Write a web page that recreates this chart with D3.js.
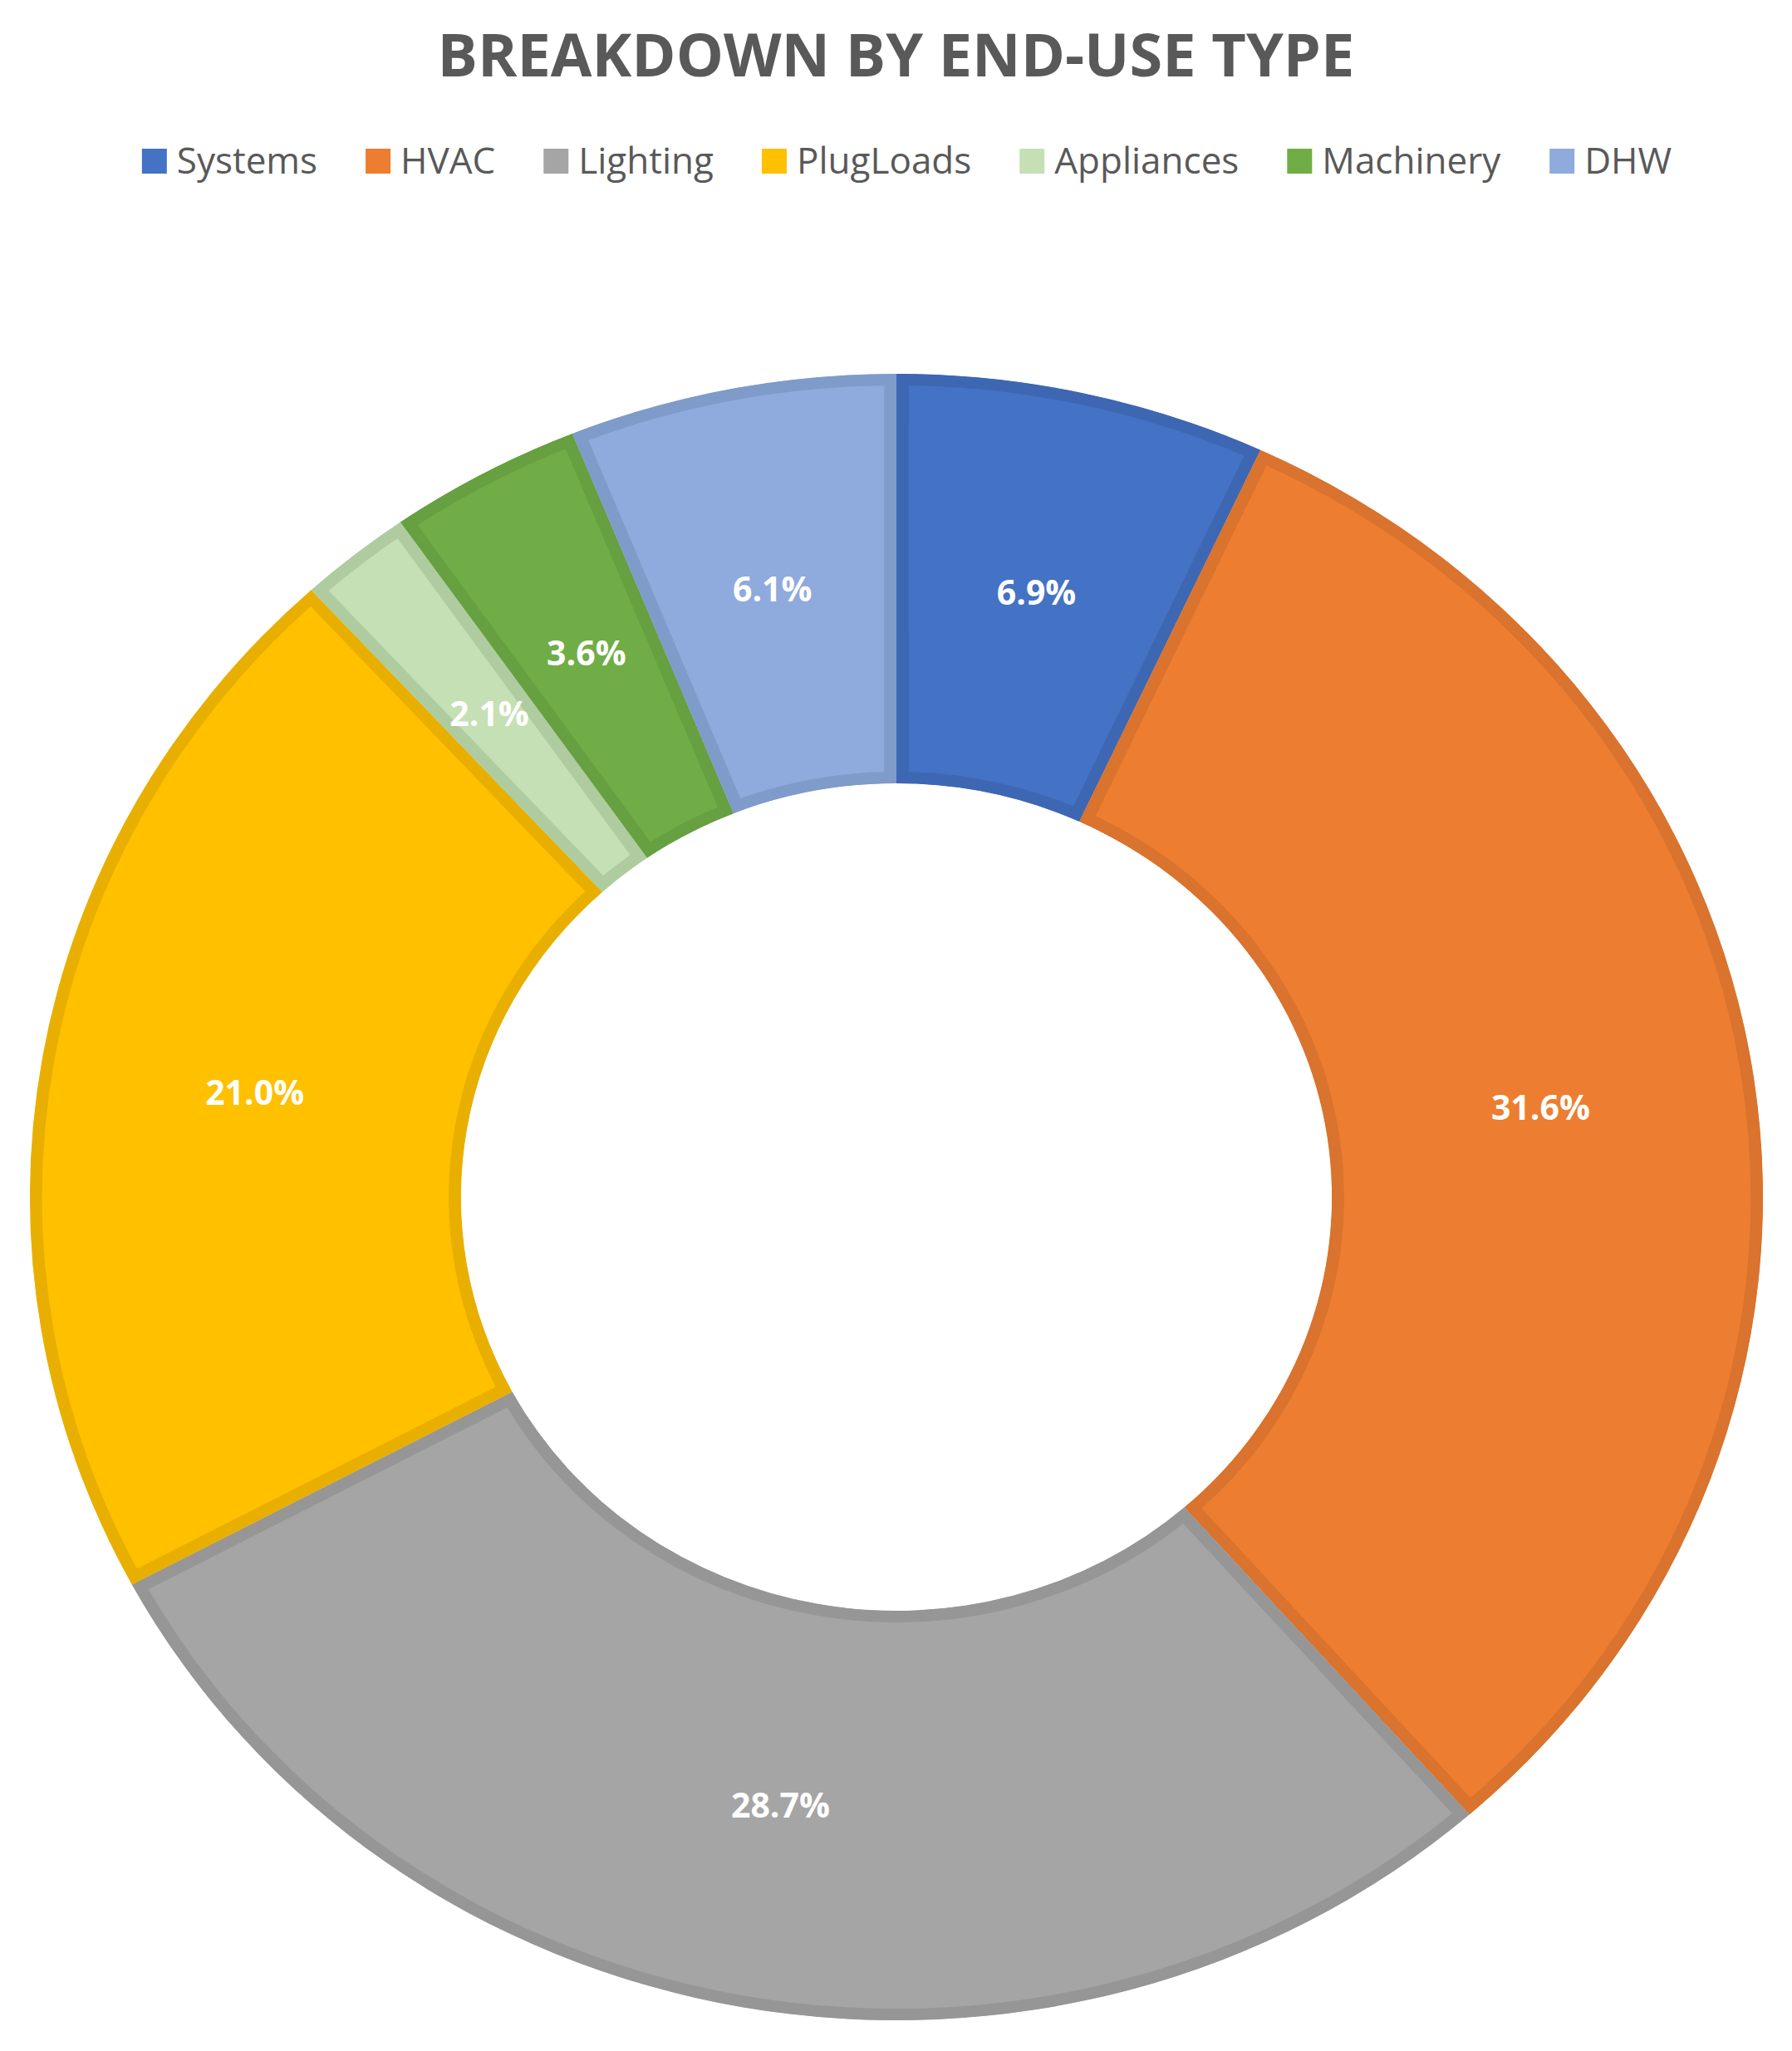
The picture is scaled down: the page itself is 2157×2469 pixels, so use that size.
<!DOCTYPE html>
<html>
<head>
<meta charset="utf-8">
<script src="https://cdn.jsdelivr.net/npm/d3@7"></script>
<style>
  body { margin: 0; background: #fff; }
  svg { display: block; }
</style>
</head>
<body>
<svg id="chart" width="2157" height="2469"></svg>
<script>
// data
const categories = ['Systems', 'HVAC', 'Lighting', 'PlugLoads', 'Appliances', 'Machinery', 'DHW'];
const shares = [6.9, 31.6, 28.7, 21.0, 2.1, 3.6, 6.1];
const fills = ['#4472C4', '#ED7D31', '#A5A5A5', '#FFC000', '#C5E0B4', '#70AD47', '#8FAADC'];
const borders = ['#3E67B3', '#D9732D', '#969696', '#E8AF00', '#AECCA0', '#66A040', '#7F9BC9'];

const svg = d3.select('#chart');
const width = +svg.attr('width');

// donut geometry (the picture is a bit wider than tall)
const cx = 1079, cy = 1441;
const outerR = 991, innerR = 498;
const sx = 1.0525;
const BORDER = 14;

const items = categories.map((c, i) => ({name: c, value: shares[i], fill: fills[i], border: borders[i]}));

const pie = d3.pie().value(d => d.value).sort(null);
const arc = d3.arc().innerRadius(innerR).outerRadius(outerR);
const arcs = pie(items);

// title
svg.append('text')
  .attr('x', width / 2)
  .attr('y', 92)
  .attr('text-anchor', 'middle')
  .attr('font-family', 'Open Sans, sans-serif')
  .attr('font-weight', 'bold')
  .attr('font-size', 72)
  .attr('fill', '#595959')
  .text('BREAKDOWN BY END-USE TYPE');

// legend
const legend = svg.append('g');
const legendItems = legend.selectAll('g')
  .data(items)
  .enter()
  .append('g');

legendItems.append('rect')
  .attr('width', 30)
  .attr('height', 30)
  .attr('y', -15)
  .attr('fill', d => d.fill);

legendItems.append('text')
  .attr('x', 42)
  .attr('dy', '0.35em')
  .attr('font-family', 'Open Sans, sans-serif')
  .attr('font-size', 44)
  .attr('fill', '#595959')
  .text(d => d.name);

let pos = 0;
const gap = 58;
legendItems.each(function() {
  const w = this.getBBox().width;
  d3.select(this).attr('transform', `translate(${pos},0)`);
  pos += w + gap;
});
const total = pos - gap;
legend.attr('transform', `translate(${(width - total) / 2 + 13},194)`);

// slices
const ring = svg.append('g')
  .attr('transform', `translate(${cx},${cy}) scale(${sx},1)`);

const defs = svg.append('defs');
arcs.forEach((a, i) => {
  defs.append('clipPath')
    .attr('id', 'clip' + i)
    .append('path')
    .attr('d', arc(a));
});

ring.selectAll('path')
  .data(arcs)
  .enter()
  .append('path')
  .attr('d', arc)
  .attr('fill', d => d.data.fill)
  .attr('stroke', d => d.data.border)
  .attr('stroke-width', BORDER * 2)
  .attr('clip-path', (d, i) => `url(#clip${i})`);

// value labels
svg.append('g')
  .selectAll('text')
  .data(arcs)
  .enter()
  .append('text')
  .attr('x', d => cx + sx * arc.centroid(d)[0])
  .attr('y', d => cy + arc.centroid(d)[1])
  .attr('text-anchor', 'middle')
  .attr('dy', '0.35em')
  .attr('font-family', 'Open Sans, sans-serif')
  .attr('font-weight', 'bold')
  .attr('font-size', 41)
  .attr('fill', '#fff')
  .text(d => d.data.value.toFixed(1) + '%');
</script>
</body>
</html>
